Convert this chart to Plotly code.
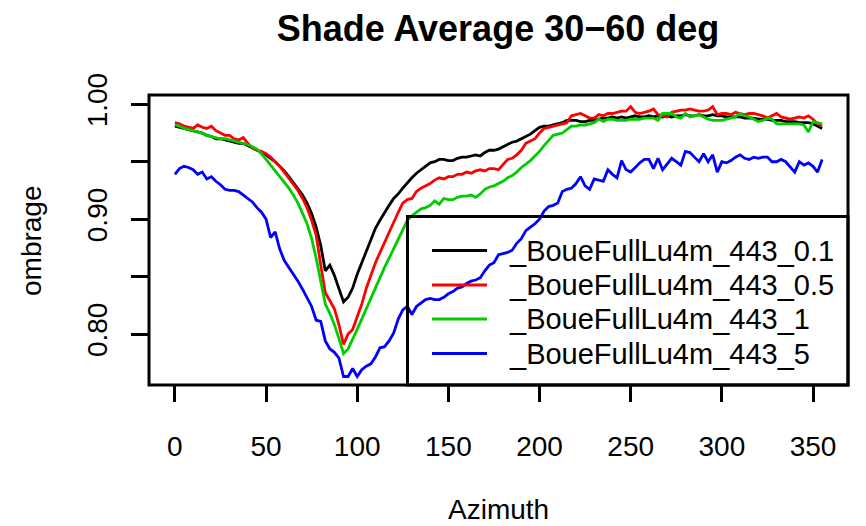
import numpy as np
import plotly.graph_objects as go

# Azimuth sampled every 2.5 degrees, 0..355
azimuth = np.arange(0, 355.1, 2.5)

shade_01 = [
    0.981, 0.980, 0.979, 0.978, 0.977, 0.976, 0.975, 0.973, 0.972, 0.970,
    0.970, 0.969, 0.968, 0.967, 0.966, 0.966, 0.964, 0.962, 0.960, 0.958,
    0.956, 0.953, 0.950, 0.946, 0.942, 0.937, 0.932, 0.927, 0.921, 0.914,
    0.905, 0.893, 0.877, 0.855, 0.860, 0.851, 0.840, 0.828, 0.832, 0.840,
    0.852, 0.862, 0.873, 0.883, 0.892, 0.899, 0.906, 0.912, 0.918, 0.922,
    0.927, 0.932, 0.936, 0.940, 0.943, 0.946, 0.949, 0.950, 0.952, 0.952,
    0.951, 0.951, 0.953, 0.954, 0.954, 0.955, 0.956, 0.955, 0.958, 0.960,
    0.960, 0.961, 0.963, 0.965, 0.967, 0.968, 0.970, 0.972, 0.974, 0.977,
    0.980, 0.981, 0.981, 0.982, 0.983, 0.984, 0.986, 0.986, 0.986, 0.985,
    0.985, 0.986, 0.986, 0.987, 0.988, 0.988, 0.989, 0.988, 0.989, 0.988,
    0.989, 0.990, 0.989, 0.989, 0.990, 0.989, 0.990, 0.989, 0.990, 0.989,
    0.990, 0.990, 0.991, 0.990, 0.990, 0.991, 0.990, 0.990, 0.991, 0.990,
    0.990, 0.989, 0.989, 0.989, 0.989, 0.988, 0.988, 0.988, 0.987, 0.987,
    0.987, 0.986, 0.986, 0.986, 0.985, 0.985, 0.985, 0.984, 0.984, 0.984,
    0.983, 0.981, 0.979,
]

shade_05 = [
    0.984, 0.983, 0.981, 0.980, 0.979, 0.982, 0.980, 0.979, 0.981, 0.977,
    0.975, 0.973, 0.973, 0.970, 0.969, 0.971, 0.966, 0.962, 0.960, 0.959,
    0.957, 0.954, 0.950, 0.946, 0.941, 0.936, 0.931, 0.925, 0.918, 0.910,
    0.899, 0.886, 0.860, 0.836, 0.829, 0.822, 0.808, 0.791, 0.800, 0.804,
    0.815, 0.826, 0.840, 0.852, 0.862, 0.871, 0.880, 0.889, 0.898, 0.906,
    0.914, 0.917, 0.918, 0.924, 0.927, 0.929, 0.931, 0.934, 0.936, 0.935,
    0.937, 0.937, 0.939, 0.939, 0.941, 0.940, 0.942, 0.943, 0.942, 0.944,
    0.944, 0.943, 0.948, 0.952, 0.953, 0.956, 0.960, 0.966, 0.968, 0.970,
    0.975, 0.979, 0.980, 0.981, 0.982, 0.983, 0.984, 0.990, 0.991, 0.992,
    0.990, 0.988, 0.988, 0.991, 0.990, 0.992, 0.992, 0.993, 0.994, 0.994,
    0.998, 0.993, 0.992, 0.993, 0.994, 0.996, 0.991, 0.990, 0.989, 0.993,
    0.994, 0.995, 0.995, 0.996, 0.995, 0.994, 0.994, 0.995, 0.998, 0.991,
    0.992, 0.992, 0.991, 0.993, 0.992, 0.991, 0.992, 0.992, 0.991, 0.990,
    0.988, 0.990, 0.992, 0.989, 0.988, 0.987, 0.988, 0.989, 0.988, 0.990,
    0.987, 0.983, 0.981,
]

shade_1 = [
    0.982, 0.981, 0.979, 0.978, 0.977, 0.976, 0.975, 0.973, 0.972, 0.971,
    0.970, 0.970, 0.969, 0.968, 0.967, 0.966, 0.965, 0.963, 0.961, 0.957,
    0.952, 0.947, 0.942, 0.938, 0.933, 0.927, 0.921, 0.914, 0.905, 0.896,
    0.883, 0.866, 0.846, 0.826, 0.818, 0.808, 0.796, 0.783, 0.787, 0.795,
    0.804, 0.813, 0.822, 0.831, 0.841, 0.850, 0.858, 0.866, 0.874, 0.883,
    0.891, 0.899, 0.903, 0.906, 0.909, 0.910, 0.912, 0.916, 0.913, 0.918,
    0.917, 0.917, 0.919, 0.920, 0.920, 0.921, 0.919, 0.922, 0.926, 0.928,
    0.929, 0.931, 0.933, 0.936, 0.938, 0.941, 0.945, 0.948, 0.951, 0.955,
    0.959, 0.964, 0.969, 0.973, 0.974, 0.975, 0.978, 0.981, 0.981, 0.982,
    0.982, 0.983, 0.984, 0.987, 0.985, 0.987, 0.987, 0.986, 0.986, 0.986,
    0.987, 0.987, 0.987, 0.988, 0.988, 0.988, 0.986, 0.992, 0.992, 0.992,
    0.989, 0.988, 0.992, 0.989, 0.990, 0.991, 0.989, 0.987, 0.986, 0.986,
    0.986, 0.987, 0.988, 0.989, 0.992, 0.990, 0.989, 0.987, 0.985, 0.986,
    0.988, 0.987, 0.983, 0.983, 0.983, 0.983, 0.983, 0.983, 0.982, 0.976,
    0.985, 0.984, 0.983,
]

shade_5 = [
    0.939, 0.944, 0.946, 0.945, 0.943, 0.939, 0.941, 0.935, 0.937, 0.933,
    0.930, 0.926, 0.925, 0.925, 0.924, 0.921, 0.918, 0.915, 0.910, 0.906,
    0.900, 0.884, 0.889, 0.874, 0.864, 0.858, 0.853, 0.846, 0.839, 0.832,
    0.824, 0.812, 0.811, 0.794, 0.787, 0.784, 0.779, 0.763, 0.763, 0.770,
    0.763, 0.769, 0.772, 0.774, 0.780, 0.788, 0.789, 0.794, 0.801, 0.813,
    0.821, 0.824, 0.817, 0.824, 0.827, 0.830, 0.831, 0.830, 0.830, 0.832,
    0.835, 0.837, 0.840, 0.841, 0.844, 0.846, 0.847, 0.849, 0.855, 0.860,
    0.862, 0.869, 0.870, 0.871, 0.873, 0.879, 0.883, 0.890, 0.893, 0.896,
    0.900, 0.907, 0.911, 0.912, 0.914, 0.924, 0.926, 0.927, 0.931, 0.937,
    0.929, 0.926, 0.935, 0.934, 0.933, 0.943, 0.939, 0.936, 0.951, 0.943,
    0.941, 0.945, 0.949, 0.952, 0.952, 0.944, 0.953, 0.943, 0.948, 0.953,
    0.950, 0.947, 0.959, 0.958, 0.954, 0.950, 0.957, 0.950, 0.956, 0.941,
    0.950, 0.949, 0.951, 0.954, 0.956, 0.953, 0.952, 0.954, 0.953, 0.954,
    0.954, 0.950, 0.950, 0.952, 0.950, 0.945, 0.941, 0.950, 0.947, 0.949,
    0.946, 0.941, 0.952,
]

series_values = [shade_01, shade_05, shade_1, shade_5]
series_names = [
    "_BoueFullLu4m_443_0.1",
    "_BoueFullLu4m_443_0.5",
    "_BoueFullLu4m_443_1",
    "_BoueFullLu4m_443_5",
]
series_colors = ["#000000", "#FF0000", "#00CD00", "#0000FF"]

x_tick_values = [0, 50, 100, 150, 200, 250, 300, 350]
y_tick_values = [0.80, 0.85, 0.90, 0.95, 1.00]
y_tick_labels = ["0.80", "", "0.90", "", "1.00"]

title_text = "Shade Average 30\u221260 deg"
x_title = "Azimuth"
y_title = "ombrage"

for vals in series_values:
    assert len(vals) == len(azimuth)

FONT = "Liberation Sans, Arial, sans-serif"
W, H = 866, 526
# plot region in pixels
L, R, T, B = 149, 848, 95, 385


def px(x):
    return (x - L) / (R - L)


def py(y):
    return (B - y) / (B - T)


fig = go.Figure()
for vals, name, color in zip(series_values, series_names, series_colors):
    fig.add_trace(go.Scatter(
        x=azimuth, y=vals, mode="lines", name=name,
        line=dict(color=color, width=2.8),
        showlegend=False,
    ))

shapes = [
    # plot frame
    dict(type="rect", xref="paper", yref="paper", x0=0, x1=1, y0=0, y1=1,
         line=dict(color="black", width=3), fillcolor="rgba(0,0,0,0)"),
    # legend frame
    dict(type="rect", xref="paper", yref="paper",
         x0=px(407.5), x1=1, y0=0, y1=py(216.5),
         line=dict(color="black", width=3), fillcolor="rgba(0,0,0,0)"),
]

annotations = []
row_y = [250.5, 285.0, 319.0, 353.5]
for ry, name, color in zip(row_y, series_names, series_colors):
    shapes.append(dict(type="line", xref="paper", yref="paper",
                       x0=px(432), x1=px(487), y0=py(ry), y1=py(ry),
                       line=dict(color=color, width=3)))
    annotations.append(dict(
        text=name, xref="paper", yref="paper", x=px(507), y=py(ry),
        xanchor="left", yanchor="middle", showarrow=False,
        font=dict(family=FONT, size=29, color="black"),
    ))

annotations.append(dict(
    text=x_title, xref="paper", yref="paper", x=px(498), y=py(509),
    xanchor="center", yanchor="middle", showarrow=False,
    font=dict(family=FONT, size=28, color="black"),
))
annotations.append(dict(
    text=y_title, xref="paper", yref="paper", x=px(31), y=py(241),
    xanchor="center", yanchor="middle", showarrow=False, textangle=-90,
    font=dict(family=FONT, size=28, color="black"),
))

fig.update_layout(
    width=W, height=H,
    margin=dict(l=L, r=W - R, t=T, b=H - B, pad=0),
    paper_bgcolor="white", plot_bgcolor="white",
    showlegend=False,
    title=dict(text=title_text, x=px(498), xref="paper", xanchor="center",
               y=1 - 28 / H, yref="container", yanchor="middle",
               font=dict(family=FONT, size=36, color="black", weight="bold")),
    xaxis=dict(range=[-14.2, 369.2], showgrid=False, zeroline=False,
               showline=False, ticks="outside", ticklen=16, tickwidth=3,
               tickcolor="black", tickvals=x_tick_values,
               tickfont=dict(family=FONT, size=28, color="black"),
               ticklabelstandoff=20),
    yaxis=dict(range=[0.7556, 1.0081], showgrid=False, zeroline=False,
               showline=False, ticks="outside", ticklen=17, tickwidth=3,
               tickcolor="black", tickvals=y_tick_values,
               ticktext=y_tick_labels, tickangle=-90,
               tickfont=dict(family=FONT, size=28, color="black"),
               ticklabelstandoff=13),
    shapes=shapes,
    annotations=annotations,
)

fig.write_html("out.html")
